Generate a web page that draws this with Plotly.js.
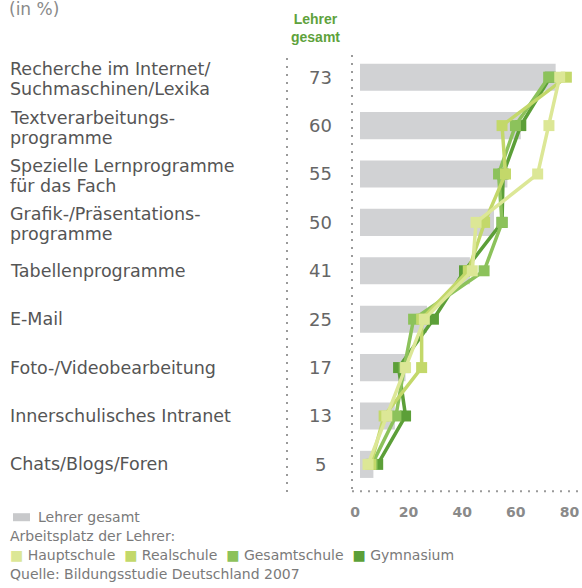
<!DOCTYPE html>
<html>
<head>
<meta charset="utf-8">
<script src="https://cdn.plot.ly/plotly-3.0.1.min.js"></script>
<style>html,body{margin:0;padding:0;background:#fff;}#chart{width:582px;height:588px;}</style>
</head>
<body>
<div id="chart"></div>
<script>
// ---- data ----
const categories = [
  "Recherche im Internet/<br>Suchmaschinen/Lexika",
  "Textverarbeitungs-<br>programme",
  "Spezielle Lernprogramme<br>für das Fach",
  "Grafik-/Präsentations-<br>programme",
  "Tabellenprogramme",
  "E-Mail",
  "Foto-/Videobearbeitung",
  "Innerschulisches Intranet",
  "Chats/Blogs/Foren"
];
const lehrerGesamt = [73, 60, 55, 50, 41, 25, 17, 13, 5];
const hauptschule  = [74.5, 70.5, 66.3, 43.3, 41.9, 24, 17, 10, 3];
const realschule   = [77, 53, 54.3, 46.5, 40.4, 23, 23, 9, 4];
const gesamtschule = [70.4, 58, 51.7, 53, 46.3, 20, 16.5, 13.4, 4.5];
const gymnasium    = [71, 60, 53.4, 53, 39, 27.4, 14.4, 17, 6.6];
const xTicks = [0, 20, 40, 60, 80];

// ---- layout helpers ----
const W = 582, H = 588;
const L = 351, R = 580, T = 53, B = 490.8;
const px = x => (x - L) / (R - L);
const py = y => (B - y) / (B - T);
const FONT = "DejaVu Sans, Liberation Sans, Arial, sans-serif";

const colors = {
  haupt: "#dce796",
  real: "#c3d86a",
  gesamt: "#8cc25b",
  gym: "#5c9f38",
  bar: "#d1d2d4"
};

function line(name, vals, color) {
  return {
    type: "scatter", mode: "lines+markers", name: name,
    x: vals, y: categories,
    line: {color: color, width: 3.5},
    marker: {symbol: "square", size: 11, color: color},
    showlegend: false, hoverinfo: "skip"
  };
}

const traces = [
  {type: "bar", orientation: "h", x: lehrerGesamt, y: categories,
   width: 0.56, marker: {color: colors.bar}, showlegend: false, hoverinfo: "skip"},
  line("Gymnasium", gymnasium, colors.gym),
  line("Gesamtschule", gesamtschule, colors.gesamt),
  line("Realschule", realschule, colors.real),
  line("Hauptschule", hauptschule, colors.haupt)
];

const scale = 2.68; // px per unit
const zeroPx = 360;
const xRange = [-(zeroPx - L) / scale, (R - zeroPx) / scale];

const annotations = [];
const rowY = i => T + (i + 0.5) * (B - T) / 9.05;
const labelFont = {family: FONT, size: 17.5, color: "#555555"};
categories.forEach((c, i) => {
  const parts = c.split("<br>");
  const yc = rowY(i) + (parts.length > 1 ? 2 : 0);
  parts.forEach((p, k) => {
    const off = (k - (parts.length - 1) / 2) * 20;
    annotations.push({
      xref: "paper", yref: "paper", x: px(8), y: py(yc + off),
      xanchor: "left", yanchor: "middle", align: "left", showarrow: false,
      text: p, font: labelFont
    });
  });
  annotations.push({
    xref: "paper", yref: "paper", x: px(320), y: py(rowY(i)),
    xanchor: "center", yanchor: "middle", showarrow: false,
    text: String(lehrerGesamt[i]), font: {family: FONT, size: 18, color: "#666666"}
  });
});
annotations.push({
  xref: "paper", yref: "paper", x: px(315), y: py(28),
  xanchor: "center", yanchor: "middle", showarrow: false,
  text: "<b>Lehrer<br>gesamt</b>",
  font: {family: "Liberation Sans Narrow, Liberation Sans, Arial", size: 14, color: "#5ea23c"}
});
annotations.push({
  xref: "paper", yref: "paper", x: px(7), y: py(9),
  xanchor: "left", yanchor: "middle", showarrow: false,
  text: "(in %)", font: {family: FONT, size: 17, color: "#8a8a8a"}
});
const small = {family: FONT, size: 14, color: "#7a7a7a"};
annotations.push({xref: "paper", yref: "paper", x: px(36), y: py(517), xanchor: "left", yanchor: "middle",
  showarrow: false, text: "Lehrer gesamt", font: small});
annotations.push({xref: "paper", yref: "paper", x: px(8), y: py(536), xanchor: "left", yanchor: "middle",
  showarrow: false, text: "Arbeitsplatz der Lehrer:", font: small});
const sq = c => `<span style="color:${c}">■</span>`;
annotations.push({xref: "paper", yref: "paper", x: px(8), y: py(555), xanchor: "left", yanchor: "middle",
  showarrow: false,
  text: `${sq(colors.haupt)} Hauptschule  ${sq(colors.real)} Realschule  ${sq(colors.gesamt)} Gesamtschule  ${sq(colors.gym)} Gymnasium`,
  font: small});
annotations.push({xref: "paper", yref: "paper", x: px(8), y: py(574), xanchor: "left", yanchor: "middle",
  showarrow: false, text: "Quelle: Bildungsstudie Deutschland 2007", font: small});

const dot = {color: "#9a9a9a", width: 2, dash: "2px,6px"};
const shapes = [
  {type: "line", xref: "paper", yref: "paper", x0: px(287), x1: px(287), y0: py(58), y1: py(492), line: dot},
  {type: "line", xref: "paper", yref: "paper", x0: px(352), x1: px(352), y0: py(55), y1: py(490.5), line: dot},
  {type: "line", xref: "paper", yref: "paper", x0: px(352), x1: px(580), y0: py(491), y1: py(491), line: dot},
  {type: "rect", xref: "paper", yref: "paper", x0: px(13), x1: px(30), y0: py(513), y1: py(521),
   fillcolor: "#c8c9cb", line: {width: 0}}
];

const layout = {
  width: W, height: H,
  margin: {l: L, r: W - R, t: T, b: H - B},
  paper_bgcolor: "#ffffff", plot_bgcolor: "#ffffff",
  showlegend: false,
  xaxis: {range: xRange, tickvals: xTicks, ticks: "", showgrid: false, zeroline: false, showline: false,
          ticklabeloverflow: "allow", ticklabelshift: -5,
          tickfont: {family: FONT, size: 14, color: "#8a8a8a", weight: "bold"}, ticklabelstandoff: 11},
  yaxis: {type: "category", range: [8.55, -0.5], showticklabels: false, showgrid: false,
          zeroline: false, showline: false, ticks: ""},
  annotations: annotations,
  shapes: shapes,
  font: {family: FONT}
};

Plotly.newPlot("chart", traces, layout, {displayModeBar: false, staticPlot: true});
</script>
</body>
</html>
